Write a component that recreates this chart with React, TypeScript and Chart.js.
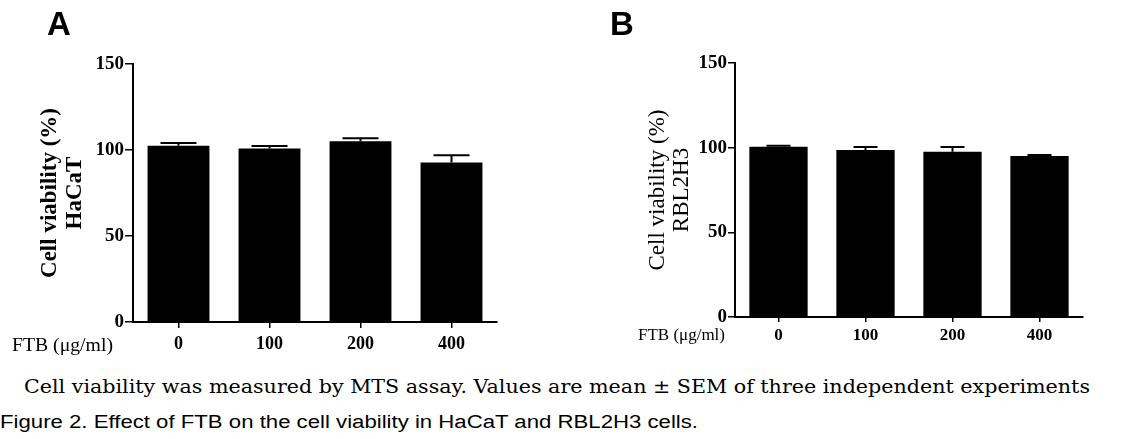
import React, { useEffect, useLayoutEffect, useRef } from "react";
import { Chart, registerables } from "chart.js";

Chart.register(...registerables);

// ---- Data ----
const categories = ["0", "100", "200", "400"];
const haCaTMeans = [102.5, 100.8, 105.1, 92.8];
const haCaTSem = [1.6, 1.5, 1.7, 4.1];
const rblMeans = [100.6, 98.6, 97.6, 95.1];
const rblSem = [0.6, 1.8, 2.8, 0.6];
const yTicks = [0, 50, 100, 150];

const errorBarPlugin = {
  id: "errorBars",
  afterDatasetsDraw(chart: any, _args: any, opts: any) {
    const errs: number[] = opts.errors || [];
    const cap: number = opts.cap || 30;
    const meta = chart.getDatasetMeta(0);
    const ds = chart.data.datasets[0];
    const yScale = chart.scales.y;
    const ctx = chart.ctx;
    ctx.save();
    ctx.strokeStyle = "#000";
    ctx.lineWidth = opts.lineWidth || 2;
    meta.data.forEach((bar: any, i: number) => {
      const v = ds.data[i] as number;
      const e = errs[i] || 0;
      const yTop = yScale.getPixelForValue(v + e);
      const x = bar.x;
      ctx.beginPath();
      ctx.moveTo(x, bar.y);
      ctx.lineTo(x, yTop);
      ctx.moveTo(x - cap / 2, yTop);
      ctx.lineTo(x + cap / 2, yTop);
      ctx.stroke();
    });
    ctx.restore();
  },
};

type PanelProps = {
  means: number[];
  sems: number[];
  title: string[];
  titleFont: any;
  titlePadTop: number;
  yAxisWidth: number;
  xAxisHeight: number;
  padTop: number;
  padRight: number;
  tickFontY: number;
  tickFontX: number;
  xTickLen: number;
  xTickPad: number;
  yTickLen: number;
  barPct: number;
  cap: number;
  width: number;
  height: number;
};

function Panel(p: PanelProps) {
  const ref = useRef<HTMLCanvasElement>(null);
  useEffect(() => {
    if (!ref.current) return;
    const chart = new Chart(ref.current, {
      type: "bar",
      data: {
        labels: categories,
        datasets: [
          {
            data: p.means,
            backgroundColor: "#000",
            borderWidth: 0,
            categoryPercentage: 1,
            barPercentage: p.barPct,
          },
        ],
      },
      options: {
        animation: false,
        responsive: false,
        maintainAspectRatio: false,
        layout: { padding: { left: 0, top: p.padTop, right: p.padRight, bottom: 0 } },
        plugins: {
          legend: { display: false },
          tooltip: { enabled: false },
          errorBars: { errors: p.sems, cap: p.cap, lineWidth: 2 },
        } as any,
        scales: {
          x: {
            offset: true,
            grid: {
              offset: false,
              drawOnChartArea: false,
              drawTicks: true,
              tickLength: p.xTickLen,
              color: "#000",
              lineWidth: 1.5,
            },
            border: { display: true, color: "#000", width: 2 },
            ticks: {
              color: "#000",
              padding: p.xTickPad,
              font: { family: "'Liberation Serif', 'Times New Roman', serif", size: p.tickFontX, weight: "bold" },
            },
            afterFit(scale: any) {
              scale.height = p.xAxisHeight;
            },
          },
          y: {
            min: 0,
            max: 150,
            afterBuildTicks(scale: any) {
              scale.ticks = yTicks.map((v) => ({ value: v }));
            },
            grid: {
              drawOnChartArea: false,
              drawTicks: true,
              tickLength: p.yTickLen,
              color: "#000",
              lineWidth: 1.5,
            },
            border: { display: true, color: "#000", width: 2 },
            ticks: {
              color: "#000",
              padding: 1,
              font: { family: "'Liberation Serif', 'Times New Roman', serif", size: p.tickFontY, weight: "bold" },
            },
            title: {
              display: true,
              text: p.title,
              color: "#000",
              padding: { top: p.titlePadTop, bottom: 0 },
              font: p.titleFont,
            },
            afterFit(scale: any) {
              scale.width = p.yAxisWidth;
            },
          },
        },
      },
      plugins: [errorBarPlugin as any],
    });
    return () => chart.destroy();
  }, []);
  return <canvas ref={ref} width={p.width} height={p.height} style={{ width: p.width, height: p.height, display: "block" }} />;
}

function FitText(props: { text: string; width: number; style: React.CSSProperties }) {
  const ref = useRef<HTMLSpanElement>(null);
  useLayoutEffect(() => {
    const el = ref.current;
    if (!el) return;
    el.style.transform = "none";
    const w = el.getBoundingClientRect().width;
    if (w > 0) el.style.transform = `scaleX(${props.width / w})`;
  });
  return (
    <span
      ref={ref}
      style={{
        position: "absolute",
        whiteSpace: "nowrap",
        display: "inline-block",
        transformOrigin: "0 0",
        ...props.style,
      }}
    >
      {props.text}
    </span>
  );
}

export default function App() {
  return (
    <div
      style={{
        position: "absolute",
        left: 0,
        top: 0,
        width: 1134,
        height: 439,
        background: "#fff",
        overflow: "hidden",
      }}
    >
      <div style={{ position: "absolute", left: 0, top: 0 }}>
        <Panel
          means={haCaTMeans}
          sems={haCaTSem}
          title={["Cell viability (%)", "HaCaT"]}
          titleFont={{ family: "'Liberation Serif', 'Times New Roman', serif", size: 23, weight: "bold", lineHeight: 1.1 }}
          titlePadTop={37}
          yAxisWidth={133}
          xAxisHeight={48}
          padTop={64}
          padRight={63}
          tickFontY={19}
          tickFontX={18}
          xTickLen={6}
          xTickPad={6}
          yTickLen={8}
          barPct={0.68}
          cap={36}
          width={560}
          height={370}
        />
      </div>
      <div style={{ position: "absolute", left: 580, top: 0 }}>
        <Panel
          means={rblMeans}
          sems={rblSem}
          title={["Cell viability (%)", "RBL2H3"]}
          titleFont={{ family: "'Liberation Serif', 'Times New Roman', serif", size: 23, weight: "normal", lineHeight: 1.05 }}
          titlePadTop={66}
          yAxisWidth={155}
          xAxisHeight={53}
          padTop={63}
          padRight={51}
          tickFontY={19}
          tickFontX={17}
          xTickLen={5}
          xTickPad={3}
          yTickLen={7}
          barPct={0.67}
          cap={24}
          width={554}
          height={370}
        />
      </div>

      <div
        style={{
          position: "absolute",
          left: 47,
          top: 7,
          fontFamily: "'Liberation Sans', Arial, sans-serif",
          fontWeight: "bold",
          fontSize: 33,
          lineHeight: "33px",
          color: "#000",
        }}
      >
        A
      </div>
      <div
        style={{
          position: "absolute",
          left: 610,
          top: 7,
          fontFamily: "'Liberation Sans', Arial, sans-serif",
          fontWeight: "bold",
          fontSize: 33,
          lineHeight: "33px",
          color: "#000",
        }}
      >
        B
      </div>

      <FitText
        text="FTB (μg/ml)"
        width={101}
        style={{
          left: 12,
          top: 334,
          fontFamily: "'Liberation Serif', 'Times New Roman', serif",
          fontSize: 19,
          lineHeight: "22px",
          color: "#000",
        }}
      />
      <FitText
        text="FTB (μg/ml)"
        width={87}
        style={{
          left: 638,
          top: 324,
          fontFamily: "'Liberation Serif', 'Times New Roman', serif",
          fontSize: 17,
          lineHeight: "22px",
          color: "#000",
        }}
      />

      <FitText
        text="Cell viability was measured by MTS assay. Values are mean ± SEM of three independent experiments"
        width={1066}
        style={{
          left: 24,
          top: 377,
          fontFamily: "'DejaVu Serif', serif",
          fontSize: 18,
          lineHeight: "20px",
          color: "#000",
        }}
      />
      <FitText
        text="Figure 2. Effect of FTB on the cell viability in HaCaT and RBL2H3 cells."
        width={698}
        style={{
          left: 0,
          top: 412,
          fontFamily: "'Liberation Sans', Arial, sans-serif",
          fontSize: 18,
          lineHeight: "20px",
          color: "#000",
        }}
      />
    </div>
  );
}
